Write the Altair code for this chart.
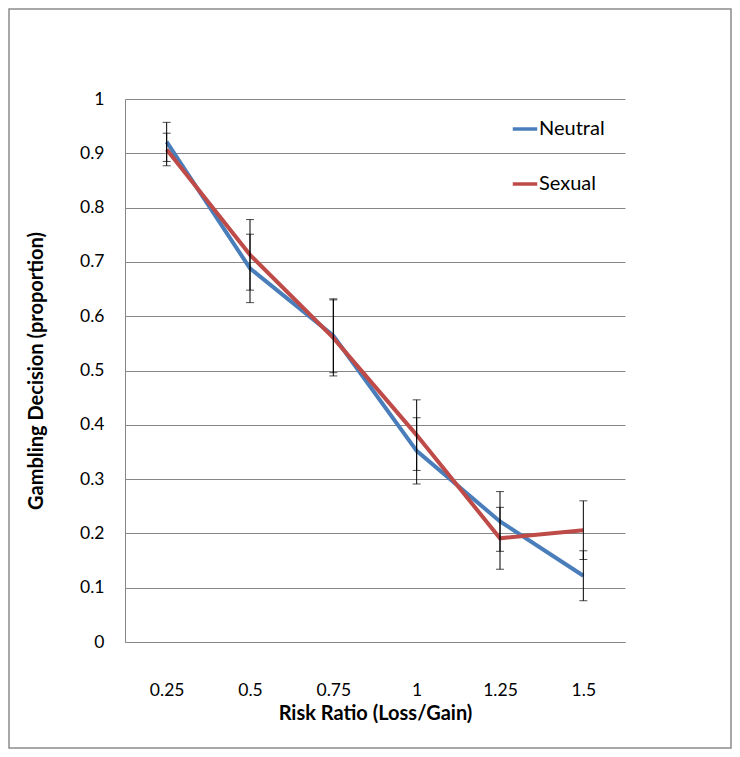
import altair as alt
import pandas as pd

risk_ratio = ["0.25", "0.5", "0.75", "1", "1.25", "1.5"]
neutral = [0.921, 0.688, 0.564, 0.352, 0.222, 0.122]
neutral_err = [0.036, 0.063, 0.068, 0.061, 0.055, 0.046]
sexual = [0.907, 0.713, 0.560, 0.381, 0.191, 0.206]
sexual_err = [0.030, 0.065, 0.070, 0.065, 0.057, 0.054]
series = ["Neutral", "Sexual"]
colors = ["#4A7EBB", "#BE4B48"]

rows = []
for name, vals, errs in [("Neutral", neutral, neutral_err), ("Sexual", sexual, sexual_err)]:
    for r, v, e in zip(risk_ratio, vals, errs):
        rows.append({"ratio": r, "series": name, "value": v, "lo": v - e, "hi": v + e})
df = pd.DataFrame(rows)

FONT = "Lato"
W, H = 500, 543
PL, PT, PR, PB = 117, 91, 107, 107

xenc = alt.X("ratio:N", sort=risk_ratio, scale=alt.Scale(type="point", padding=0.5),
             axis=alt.Axis(title="Risk Ratio (Loss/Gain)", labelAngle=0, ticks=False,
                           labelPadding=39, titlePadding=5, labelFontSize=17.5,
                           titleFontSize=20, grid=False, domainColor="#868686"))
yscale = alt.Scale(domain=[0, 1], nice=False)

base = alt.Chart(df)

lines = base.mark_line(strokeWidth=4).encode(
    x=xenc,
    y=alt.Y("value:Q", scale=yscale,
            axis=alt.Axis(title="Gambling Decision (proportion)", values=[i / 10 for i in range(11)],
                          format=".1~f", ticks=False, labelPadding=21, titlePadding=33,
                          labelFontSize=17.5, titleFontSize=20, gridColor="#868686",
                          domainColor="#868686")),
    color=alt.Color("series:N", scale=alt.Scale(domain=series, range=colors),
                    legend=alt.Legend(orient="none", legendX=386, legendY=16, title=None,
                                      symbolType="stroke", symbolStrokeWidth=3.5, symbolSize=600,
                                      labelFontSize=20, labelOffset=0, rowPadding=31,
                                      labelFont=FONT, labelColor="#000000")),
)

bars = base.mark_rule(color="black", strokeWidth=1).encode(
    x=alt.X("ratio:N", sort=risk_ratio),
    y=alt.Y("lo:Q", scale=yscale),
    y2="hi:Q",
)
cap_lo = base.mark_tick(color="black", thickness=1, size=8, orient="horizontal").encode(
    x=alt.X("ratio:N", sort=risk_ratio), y=alt.Y("lo:Q", scale=yscale))
cap_hi = base.mark_tick(color="black", thickness=1, size=8, orient="horizontal").encode(
    x=alt.X("ratio:N", sort=risk_ratio), y=alt.Y("hi:Q", scale=yscale))

frame = alt.Chart(alt.Data(values=[{"k": 1}])).mark_rect(
    fill=None, stroke="#8c8c8c", strokeWidth=1.5).encode(
    x=alt.value(-PL + 1), x2=alt.value(W + PR - 1),
    y=alt.value(-PT + 1), y2=alt.value(H + PB - 1))

chart = alt.layer(frame, lines, bars, cap_lo, cap_hi).properties(
    width=W, height=H,
    autosize=alt.AutoSizeParams(type="none"),
    padding={"left": PL, "top": PT, "right": PR, "bottom": PB},
    background="white",
).configure_view(stroke=None).configure_axis(
    labelFont=FONT, titleFont=FONT, labelColor="#000000", titleColor="#000000",
    titleFontWeight="bold",
)

chart.save("out.html", embed_options={"renderer": "svg", "actions": False})
